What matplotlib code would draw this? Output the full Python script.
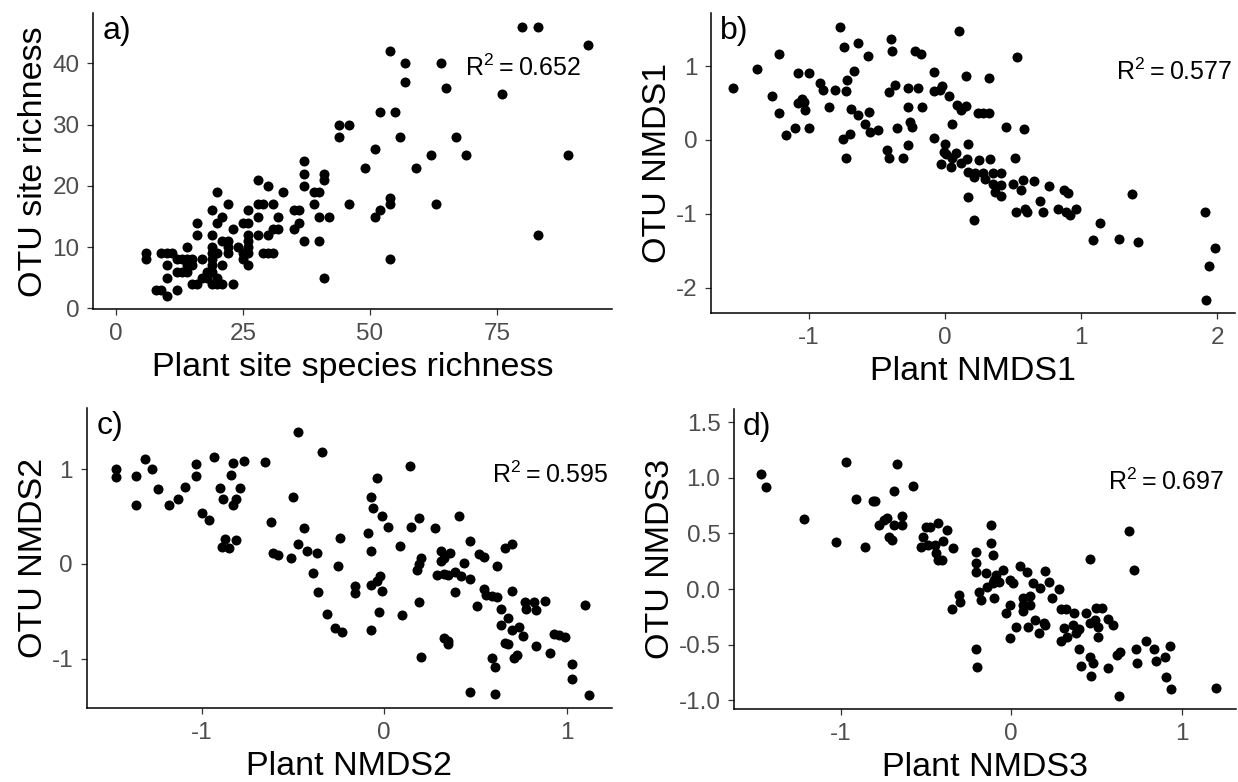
import matplotlib.pyplot as plt

plt.rcParams['font.family'] = ['Liberation Sans', 'DejaVu Sans']
plt.rcParams['mathtext.fontset'] = 'custom'
plt.rcParams['mathtext.rm'] = 'Liberation Sans'
plt.rcParams['axes.unicode_minus'] = False

# a) richness
plant_rich = [80, 83, 93, 54, 57, 64, 57, 65, 76, 52, 55, 44, 46, 44, 56, 67, 51,
              62, 69, 89, 37, 49, 59, 37, 41, 28, 41, 30, 37, 20, 33, 39, 40, 54,
              22, 28, 29, 31, 39, 46, 54, 63, 19, 26, 35, 36, 52,
              21, 28, 32, 40, 42, 51, 16, 20, 25, 26, 36, 23, 31, 32, 35,
              16, 19, 26, 28, 30, 83, 21, 22, 26, 37, 40, 14, 19, 22, 24, 26,
              6, 9, 10, 11, 19, 20, 22, 25, 26, 29, 30, 31,
              6, 12, 13, 14, 15, 17, 19, 25, 54, 10, 14, 15, 19, 21, 26,
              12, 13, 14, 18, 19, 10, 17, 18, 20, 41, 15, 16, 19, 20, 21, 23,
              8, 9, 12, 10]
otu_rich = [46, 46, 43, 42, 40, 40, 37, 36, 35, 32, 32, 30, 30, 28, 28, 28, 26,
            25, 25, 25, 24, 23, 23, 22, 22, 21, 21, 20, 20, 19, 19, 19, 19, 18,
            17, 17, 17, 17, 17, 17, 17, 17, 16, 16, 16, 16, 16,
            15, 15, 15, 15, 15, 15, 14, 14, 14, 14, 14, 13, 13, 13, 13,
            12, 12, 12, 12, 12, 12, 11, 11, 11, 11, 11, 10, 10, 10, 10, 10,
            9, 9, 9, 9, 9, 9, 9, 9, 9, 9, 9, 9,
            8, 8, 8, 8, 8, 8, 8, 8, 8, 7, 7, 7, 7, 7, 7,
            6, 6, 6, 6, 6, 5, 5, 5, 5, 5, 4, 4, 4, 4, 4, 4,
            3, 3, 3, 2]

# b) NMDS1
plant_nmds1 = [-1.56, -1.38, -1.22, -1.27, -1.22, -1.17, -1.10, -1.08, -1.00, -1.08,
               -1.05, -1.04, -1.03, -1.00, -0.92, -0.90, -0.85, -0.81, -0.77, -0.74,
               -0.64, -0.57, -0.67, -0.72, -0.73, -0.69, -0.64, -0.56, -0.59, -0.55,
               -0.49, -0.75, -0.70, -0.73, -0.40, -0.39, -0.41, -0.37, -0.35, -0.43,
               -0.41, -0.31, -0.27, -0.20, -0.27, -0.17, -0.26, -0.24, -0.27, -0.22,
               -0.18, -0.08, -0.08, -0.04, -0.02, 0.03, -0.08, 0.00, -0.01, 0.01,
               0.05, 0.08, 0.05, -0.03, 0.04, 0.10, 0.15, 0.09, 0.12, 0.15,
               0.12, 0.17, 0.16, 0.17, 0.21, 0.22, 0.17, 0.21, 0.24, 0.28,
               0.32, 0.32, 0.25, 0.33, 0.28, 0.29, 0.35, 0.41, 0.35, 0.41,
               0.37, 0.41, 0.53, 0.45, 0.58, 0.51, 0.50, 0.56, 0.57, 0.52,
               0.59, 0.60, 0.65, 0.76, 0.70, 0.72, 0.83, 0.89, 0.92, 0.96,
               0.87, 0.90, 1.14, 1.09, 1.28, 1.42, 1.37, 1.91, 1.98, 1.94, 1.92]
otu_nmds1 = [0.71, 0.96, 1.16, 0.59, 0.36, 0.07, 0.16, 0.90, 0.90, 0.50,
             0.56, 0.52, 0.40, 0.16, 0.77, 0.68, 0.45, 0.68, 1.53, 1.26,
             1.31, 1.13, 0.93, 0.81, 0.66, 0.42, 0.34, 0.38, 0.22, 0.11,
             0.14, 0.02, 0.08, -0.24, 1.36, 1.21, 0.65, 0.74, 0.16, -0.14,
             -0.25, -0.24, 0.71, 0.70, 0.45, 0.45, 0.24, 0.17, -0.07, 1.20,
             1.16, 0.92, 0.66, 0.67, 0.73, 0.60, 0.03, -0.06, -0.16, -0.19,
             0.22, -0.17, -0.25, -0.33, -0.37, 1.47, 0.86, 0.47, 0.41, 0.46,
             -0.31, -0.05, -0.26, -0.43, -0.50, -0.45, -0.77, -1.08, 0.37, 0.36,
             0.37, 0.84, -0.27, -0.26, -0.45, -0.53, -0.45, -0.44, -0.60, -0.61,
             -0.70, -0.76, 1.12, 0.18, 0.15, -0.24, -0.60, -0.67, -0.54, -0.97,
             -0.94, -0.98, -0.56, -0.62, -0.83, -0.97, -0.93, -0.97, -1.02, -0.93,
             -0.67, -0.72, -1.13, -1.36, -1.34, -1.38, -0.73, -0.97, -1.46, -1.70, -2.17]

# c) NMDS2
plant_nmds2 = [-1.47, -1.47, -1.36, -1.36, -1.31, -1.27, -1.24, -1.18, -1.13, -1.09,
               -1.03, -1.03, -1.00, -0.96, -0.93, -0.90, -0.88, -0.83, -0.81, -0.79,
               -0.84, -0.83, -0.77, -0.89, -0.87, -0.85, -0.81, -0.65, -0.62, -0.61,
               -0.58, -0.51, -0.50, -0.47, -0.47, -0.44, -0.42, -0.37, -0.39, -0.36,
               -0.34, -0.31, -0.27, -0.23, -0.25, -0.24, -0.16, -0.16, -0.09, -0.07,
               -0.06, -0.07, -0.07, -0.04, -0.02, -0.01, -0.04, -0.01, 0.02, -0.03,
               -0.07, 0.09, 0.10, 0.14, 0.15, 0.19, 0.19, 0.18, 0.20, 0.19,
               0.20, 0.28, 0.31, 0.31, 0.36, 0.33, 0.29, 0.33, 0.35, 0.39,
               0.42, 0.47, 0.39, 0.41, 0.44, 0.33, 0.35, 0.35, 0.47, 0.47,
               0.52, 0.55, 0.51, 0.55, 0.56, 0.59, 0.62, 0.62, 0.66, 0.70,
               0.64, 0.68, 0.64, 0.70, 0.74, 0.76, 0.66, 0.68, 0.71, 0.73,
               0.59, 0.61, 0.61, 0.70, 0.77, 0.78, 0.82, 0.83, 0.88, 0.83,
               0.91, 0.93, 0.96, 0.99, 1.03, 1.03, 1.10, 1.12]
otu_nmds2 = [1.00, 0.92, 0.93, 0.62, 1.11, 1.00, 0.79, 0.62, 0.68, 0.81,
             1.05, 0.93, 0.54, 0.46, 1.13, 0.80, 0.68, 0.62, 0.68, 0.80,
             0.94, 1.06, 1.08, 0.18, 0.26, 0.17, 0.25, 1.07, 0.44, 0.12,
             0.10, 0.06, 0.71, 1.39, 0.21, 0.38, 0.14, 0.12, -0.09, -0.30,
             1.18, -0.53, -0.67, -0.72, -0.02, 0.27, -0.23, -0.31, 0.33, 0.71,
             0.59, 0.14, -0.22, -0.18, -0.13, -0.28, 0.91, 0.51, 0.39, -0.51,
             -0.69, 0.19, -0.54, 1.03, 0.39, 0.48, -0.40, -0.06, 0.06, 0.00,
             -0.98, 0.38, 0.14, 0.03, 0.12, 0.06, -0.12, -0.11, -0.12, -0.08,
             -0.13, -0.16, -0.30, 0.51, 0.01, -0.78, -0.84, -0.81, 0.24, -1.35,
             0.11, 0.07, -0.44, -0.26, -0.33, -0.34, -0.35, -0.02, 0.17, 0.21,
             -0.47, -0.57, -0.64, -0.70, -0.66, -0.76, -0.83, -0.84, -0.99, -0.96,
             -0.99, -1.08, -1.37, -0.28, -0.40, -0.47, -0.40, -0.48, -0.39, -0.86,
             -0.94, -0.74, -0.75, -0.77, -1.05, -1.21, -0.43, -1.38]

# d) NMDS3
plant_nmds3 = [-1.47, -1.44, -1.22, -1.03, -0.97, -0.91, -0.86, -0.81, -0.80, -0.78,
               -0.75, -0.73, -0.69, -0.67, -0.64, -0.64, -0.69, -0.72, -0.70, -0.58,
               -0.53, -0.52, -0.50, -0.48, -0.43, -0.49, -0.45, -0.44, -0.43, -0.41,
               -0.40, -0.38, -0.34, -0.35, -0.31, -0.30, -0.21, -0.21, -0.21, -0.15,
               -0.19, -0.18, -0.12, -0.12, -0.11, -0.14, -0.11, -0.09, -0.07, -0.05,
               -0.10, -0.10, -0.21, -0.20, -0.01, 0.01, -0.01, -0.03, -0.01, 0.03,
               0.05, 0.09, 0.07, 0.07, 0.11, 0.07, 0.11, 0.10, 0.14, 0.16,
               0.19, 0.20, 0.13, 0.17, 0.20, 0.22, 0.24, 0.28, 0.29, 0.32,
               0.29, 0.31, 0.33, 0.36, 0.37, 0.38, 0.40, 0.40, 0.41, 0.44,
               0.46, 0.46, 0.49, 0.50, 0.53, 0.51, 0.51, 0.46, 0.48, 0.47,
               0.57, 0.57, 0.60, 0.62, 0.64, 0.63, 0.69, 0.72, 0.73, 0.74,
               0.79, 0.84, 0.85, 0.90, 0.93, 0.91, 0.94, 1.20]
otu_nmds3 = [1.03, 0.92, 0.63, 0.42, 1.14, 0.81, 0.38, 0.79, 0.79, 0.58,
             0.62, 0.64, 0.88, 1.12, 0.66, 0.58, 0.58, 0.47, 0.44, 0.93,
             0.38, 0.47, 0.56, 0.56, 0.59, 0.40, 0.40, 0.32, 0.26, 0.26,
             0.43, 0.53, 0.37, -0.18, -0.05, -0.12, 0.33, 0.23, 0.15, 0.14,
             -0.03, -0.10, 0.58, 0.41, 0.31, 0.02, 0.05, 0.13, 0.06, 0.17,
             0.08, -0.08, -0.54, -0.70, 0.08, 0.05, -0.14, -0.22, -0.44, -0.34,
             0.21, 0.15, -0.08, -0.14, -0.06, -0.20, -0.14, -0.34, -0.28, -0.40,
             -0.31, -0.32, 0.05, 0.01, 0.16, 0.06, -0.08, 0.00, -0.18, -0.18,
             -0.47, -0.35, -0.43, -0.32, -0.22, -0.40, -0.36, -0.54, -0.69, -0.22,
             0.27, -0.31, -0.28, -0.17, -0.17, -0.34, -0.43, -0.61, -0.67, -0.78,
             -0.71, -0.27, -0.32, -0.59, -0.57, -0.96, 0.52, 0.17, -0.54, -0.67,
             -0.47, -0.54, -0.65, -0.61, -0.51, -0.79, -0.90, -0.89]

panels = [
    # x, y, xlabel, ylabel, tag, r2, xlim, ylim, xticks, yticks, rect, r2pos
    (plant_rich, otu_rich, 'Plant site species richness', 'OTU site richness', 'a)', '0.652',
     (-4.47, 97.6), (-0.16, 48.2), [0, 25, 50, 75], [0, 10, 20, 30, 40],
     [93, 13.3, 611.7, 309.3], (0.942, 0.815)),
    (plant_nmds1, otu_nmds1, 'Plant NMDS1', 'OTU NMDS1', 'b)', '0.577',
     (-1.72, 2.13), (-2.345, 1.714), [-1, 0, 1, 2], [-2, -1, 0, 1],
     [711, 13.3, 1235, 313.3], (0.994, 0.804)),
    (plant_nmds2, otu_nmds2, 'Plant NMDS2', 'OTU NMDS2', 'c)', '0.595',
     (-1.629, 1.247), (-1.519, 1.639), [-1, 0, 1], [-1, 0, 1],
     [86.7, 408.3, 611.7, 708.3], (0.993, 0.778)),
    (plant_nmds3, otu_nmds3, 'Plant NMDS3', 'OTU NMDS3', 'd)', '0.697',
     (-1.629, 1.32), (-1.082, 1.619), [-1, 0, 1], [-1.0, -0.5, 0.0, 0.5, 1.0, 1.5],
     [734, 409, 1236, 709.3], (0.976, 0.758)),
]

W, H = 1238, 782
fig = plt.figure(figsize=(W / 100, H / 100), dpi=100)

for x, y, xlab, ylab, tag, r2, xlim, ylim, xt, yt, rect, r2pos in panels:
    l, t, r, b = rect
    ax = fig.add_axes([l / W, 1 - b / H, (r - l) / W, (b - t) / H])
    ax.scatter(x, y, s=52, color='black', linewidths=0, zorder=3)
    ax.set_xlim(*xlim)
    ax.set_ylim(*ylim)
    ax.set_xticks(xt)
    ax.set_yticks(yt)
    if tag == 'd)':
        ax.set_yticklabels([f'{v:.1f}' for v in yt])
    for s in ['top', 'right']:
        ax.spines[s].set_visible(False)
    for s in ['left', 'bottom']:
        ax.spines[s].set_linewidth(1.1)
        ax.spines[s].set_color('black')
    ax.tick_params(direction='out', length=4.3, width=0.9, color='#333333',
                   labelcolor='#4D4D4D', labelsize=17.5, pad=5.5)
    ax.set_xlabel(xlab, fontsize=24.5, labelpad=5)
    ax.set_ylabel(ylab, fontsize=24.5, labelpad=2)
    ax.text(0.018, 0.94, tag, transform=ax.transAxes, fontsize=23,
            ha='left', va='center')
    ax.text(r2pos[0], r2pos[1], r'$\mathregular{R^2 = ' + r2 + '}$',
            transform=ax.transAxes, fontsize=18, ha='right', va='center')

fig.savefig('out.png', dpi=100)
